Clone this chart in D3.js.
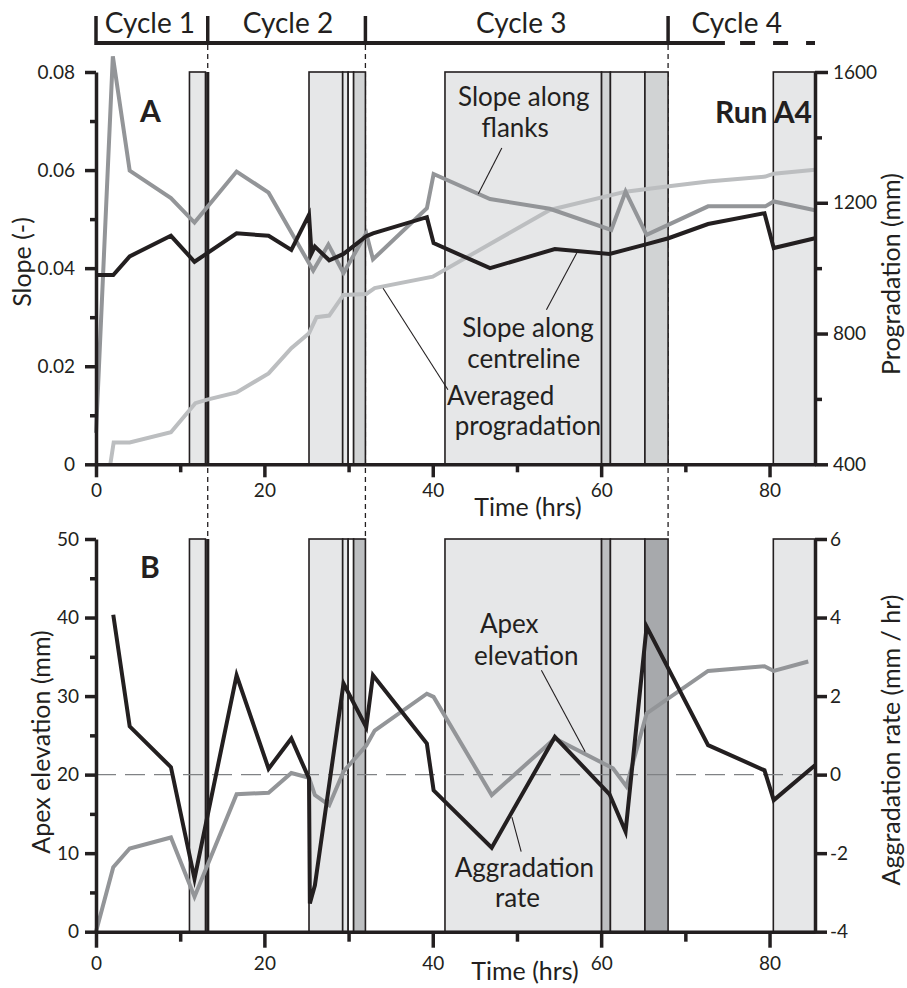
<!DOCTYPE html>
<html>
<head>
<meta charset="utf-8">
<script src="https://cdn.jsdelivr.net/npm/d3@7"></script>
<style>
  body { margin: 0; background: #fff; }
  svg { display: block; font-family: Lato, "Open Sans", sans-serif; }
</style>
</head>
<body>
<svg width="907" height="988"></svg>
<script>
// time axis (hrs)
const timeDomain = [0, 85.4];
const timeTicks = [0, 20, 40, 60, 80];
const timeMinor = [10, 30, 50, 70];

// cycles along the top bar
const cycleNames = ["Cycle 1", "Cycle 2", "Cycle 3", "Cycle 4"];
const cycleStarts = [0, 13.27, 32.0, 67.95];
const cycleLabelTimes = [6.4, 22.8, 50.5, 76.1];
const cycleSolidEnd = 74.7;
const cycleDashStart = 76.5;

// shaded intervals: start, end, shade
const bands = [
  [11.1, 13.0, "light"],
  [25.3, 29.3, "light"],
  [29.3, 29.95, "light"],
  [29.95, 30.6, "blank"],
  [30.6, 32.0, "dark"],
  [41.45, 60.05, "light"],
  [60.05, 61.1, "dark"],
  [61.1, 65.2, "light"],
  [65.2, 67.95, "darker"],
  [80.45, 85.4, "light"]
];

// panel A: slope (-) and progradation (mm)
const slopeTicks = [0, 0.02, 0.04, 0.06, 0.08];
const slopeMinor = [0.01, 0.03, 0.05, 0.07];
const progTicks = [400, 800, 1200, 1600];
const progMinor = [600, 1000, 1400];

const flanks = [
  [0, 0.0064], [2.0, 0.0832], [4.0, 0.0599], [8.9, 0.0543], [11.7, 0.0493],
  [16.7, 0.0597], [20.5, 0.0554], [25.8, 0.0395], [27.6, 0.0448], [29.4, 0.0390],
  [32.1, 0.0471], [32.9, 0.0418], [39.3, 0.0522], [40.1, 0.0592], [46.8, 0.0541],
  [53.9, 0.0521], [61.2, 0.0478], [62.9, 0.0556], [65.4, 0.0468], [72.7, 0.0526],
  [79.5, 0.0526], [80.5, 0.0536], [85.4, 0.0518]
];
const centreline = [
  [0, 0.0386], [2.05, 0.0386], [4.0, 0.0424], [8.9, 0.0466], [11.7, 0.0413],
  [16.7, 0.0471], [20.5, 0.0466], [23.2, 0.0437], [25.3, 0.0509], [25.6, 0.0430],
  [26.0, 0.0444], [27.7, 0.0416], [29.4, 0.0429], [32.1, 0.0465], [32.9, 0.0471],
  [39.3, 0.0504], [40.1, 0.0451], [46.8, 0.0400], [54.5, 0.0439], [61.0, 0.0429],
  [65.2, 0.0448], [68.0, 0.0461], [72.7, 0.0490], [79.4, 0.0512], [80.5, 0.0441],
  [85.4, 0.0461]
];
const progradation = [
  [1.7, 400], [2.1, 467], [4.0, 467], [8.9, 498], [11.8, 587], [13.1, 597],
  [16.7, 620], [20.5, 678], [23.2, 755], [25.3, 801], [26.2, 850], [27.7, 855],
  [29.4, 918], [32.1, 921], [33.1, 939], [40.0, 974], [46.8, 1074], [53.9, 1178],
  [62.9, 1234], [67.8, 1250], [72.7, 1265], [79.5, 1280], [80.5, 1289], [85.4, 1301]
];

// panel B: apex elevation (mm) and aggradation rate (mm / hr)
const elevTicks = [0, 10, 20, 30, 40, 50];
const elevMinor = [5, 15, 25, 35, 45];
const rateTicks = [-4, -2, 0, 2, 4, 6];

const elevation = [
  [0, 0], [2.05, 8.2], [4.0, 10.6], [8.9, 12.0], [11.7, 4.45], [16.7, 17.5],
  [20.5, 17.7], [23.2, 20.2], [25.3, 19.6], [26.0, 17.4], [27.7, 16.1], [29.4, 20.4],
  [32.1, 23.7], [33.1, 25.6], [39.3, 30.3], [40.1, 29.9], [47.0, 17.4], [54.5, 24.6],
  [61.4, 20.8], [63.0, 18.5], [65.4, 27.8], [72.7, 33.2], [79.4, 33.8], [80.5, 33.2],
  [84.6, 34.4]
];
const rate = [
  [2.05, 4.07], [4.0, 1.23], [8.9, 0.19], [11.7, -2.65], [16.7, 2.53], [20.5, 0.15],
  [23.2, 0.92], [25.3, -0.1], [25.4, -3.28], [26.0, -2.82], [29.4, 2.32], [32.1, 1.21],
  [32.9, 2.53], [39.3, 0.79], [40.1, -0.40], [47.0, -1.86], [54.5, 0.96], [61.0, -0.5],
  [62.9, -1.45], [65.4, 3.77], [72.7, 0.75], [79.4, 0.11], [80.5, -0.65], [85.4, 0.24]
];

// annotations, in data units
const notesA = [
  { text: "Slope along", t: 43.0, v: 0.0730 },
  { text: "flanks", t: 45.8, v: 0.0668 },
  { text: "Slope along", t: 43.5, v: 0.0260 },
  { text: "centreline", t: 44.1, v: 0.0197 },
  { text: "Averaged", t: 41.7, v: 0.0121 },
  { text: "progradation", t: 42.6, v: 0.0060 }
];
const leadersA = [
  [[48.2, 0.0645], [45.4, 0.0551]],
  [[53.5, 0.0315], [57.1, 0.0431]],
  [[34.1, 0.0359], [41.8, 0.0152]]
];
const notesB = [
  { text: "Apex", t: 45.6, v: 38.0 },
  { text: "elevation", t: 44.9, v: 33.9 },
  { text: "Aggradation", t: 42.6, v: 7.0 },
  { text: "rate", t: 47.4, v: 3.2 }
];
const leadersB = [
  [[52.9, 33.3], [58.1, 22.9]],
  [[49.4, 14.6], [50.5, 10.2]]
];

// colours
const ink = "#231f20";
const midGrey = "#939598";
const lightGrey = "#bcbec0";

const svg = d3.select("svg");
const x = d3.scaleLinear().domain(timeDomain).range([96, 815]);

// panel frames
const topA = 72, bottomA = 464.3;
const topB = 539, bottomB = 931.7;
const ySlope = d3.scaleLinear().domain([0, 0.08]).range([bottomA, topA]);
const yProg = d3.scaleLinear().domain([400, 1600]).range([bottomA, topA]);
const yElev = d3.scaleLinear().domain([0, 50]).range([bottomB, topB]);
const yRate = d3.scaleLinear().domain([-4, 6]).range([bottomB, topB]);

// cycle bar
const bar = svg.append("g").attr("class", "cycles");
bar.append("line")
  .attr("x1", x(0)).attr("x2", x(cycleSolidEnd))
  .attr("y1", 43).attr("y2", 43)
  .attr("stroke", ink).attr("stroke-width", 4);
bar.append("line")
  .attr("x1", x(cycleDashStart)).attr("x2", x(timeDomain[1]))
  .attr("y1", 43).attr("y2", 43)
  .attr("stroke", ink).attr("stroke-width", 4)
  .attr("stroke-dasharray", "15,18");
bar.selectAll(".cycle-tick")
  .data(cycleStarts)
  .enter()
  .append("line")
  .attr("x1", d => x(d)).attr("x2", d => x(d))
  .attr("y1", 16).attr("y2", 45)
  .attr("stroke", ink).attr("stroke-width", 3.5);
bar.selectAll(".cycle-label")
  .data(cycleNames)
  .enter()
  .append("text")
  .attr("x", (d, i) => x(cycleLabelTimes[i]))
  .attr("y", 33)
  .attr("text-anchor", "middle")
  .attr("font-size", 28)
  .attr("fill", ink)
  .text(d => d);

// dashed cycle boundaries running down through panel A
svg.selectAll(".boundary")
  .data(cycleStarts.slice(1))
  .enter()
  .append("line")
  .attr("x1", d => x(d)).attr("x2", d => x(d))
  .attr("y1", 45).attr("y2", topB)
  .attr("stroke", ink).attr("stroke-width", 1.3)
  .attr("stroke-dasharray", "5,4");

function drawBands(g, y0, y1, fills) {
  g.selectAll(".band")
    .data(bands)
    .enter()
    .append("rect")
    .attr("x", d => x(d[0]))
    .attr("width", d => x(d[1]) - x(d[0]))
    .attr("y", y0)
    .attr("height", y1 - y0)
    .attr("fill", d => fills[d[2]])
    .attr("stroke", ink)
    .attr("stroke-width", 1.6);
  // thick line closing cycle 1
  g.append("line")
    .attr("x1", x(cycleStarts[1])).attr("x2", x(cycleStarts[1]))
    .attr("y1", y0).attr("y2", y1)
    .attr("stroke", ink).attr("stroke-width", 3.2);
}

function drawSeries(g, data, yScale, colour) {
  const line = d3.line()
    .x(d => x(d[0]))
    .y(d => yScale(d[1]));
  g.append("path")
    .datum(data)
    .attr("d", line)
    .attr("fill", "none")
    .attr("stroke", colour)
    .attr("stroke-width", 4)
    .attr("stroke-linejoin", "miter")
    .attr("stroke-miterlimit", 6);
}

function drawAxis(g, axisFn, scale, transform, major, minor, bigSize, smallSize, pad, fmt) {
  if (minor.length) {
    const m = g.append("g")
      .attr("transform", transform)
      .call(axisFn(scale).tickValues(minor).tickSize(smallSize).tickSizeOuter(0).tickFormat(""));
    m.select(".domain").remove();
    m.selectAll("line").attr("stroke", ink).attr("stroke-width", 3.5);
  }
  const a = g.append("g")
    .attr("transform", transform)
    .call(axisFn(scale).tickValues(major).tickSize(bigSize).tickSizeOuter(0)
      .tickPadding(pad).tickFormat(fmt));
  a.select(".domain").attr("stroke", ink).attr("stroke-width", 3.5);
  a.selectAll("line").attr("stroke", ink).attr("stroke-width", 3.5);
  a.selectAll("text")
    .attr("fill", ink)
    .attr("font-size", 19)
    .attr("font-family", "Lato, 'Open Sans', sans-serif");
  return a;
}

function drawNotes(g, notes, leaders, yScale) {
  g.selectAll(".note")
    .data(notes)
    .enter()
    .append("text")
    .attr("x", d => x(d.t))
    .attr("y", d => yScale(d.v))
    .attr("font-size", 26)
    .attr("fill", ink)
    .text(d => d.text);
  g.selectAll(".leader")
    .data(leaders)
    .enter()
    .append("line")
    .attr("x1", d => x(d[0][0])).attr("y1", d => yScale(d[0][1]))
    .attr("x2", d => x(d[1][0])).attr("y2", d => yScale(d[1][1]))
    .attr("stroke", ink).attr("stroke-width", 1.1);
}

function title(text, tx, ty, rotate) {
  svg.append("text")
    .attr("transform", "translate(" + tx + "," + ty + ")" + (rotate ? " rotate(-90)" : ""))
    .attr("text-anchor", "middle")
    .attr("font-size", 25)
    .attr("fill", ink)
    .text(text);
}

// plain hyphen for negatives, like the original
const plain = d => String(d);

// panel A
const gA = svg.append("g").attr("class", "panel-a");
drawBands(gA, topA, bottomA, { light: "#e6e7e8", blank: "#ffffff", dark: "#d1d3d4", darker: "#d1d3d4" });
drawSeries(gA, progradation, yProg, lightGrey);
drawSeries(gA, flanks, ySlope, midGrey);
drawSeries(gA, centreline, ySlope, ink);
drawNotes(gA, notesA, leadersA, ySlope);
drawAxis(gA, d3.axisBottom, x, "translate(0," + bottomA + ")", timeTicks, timeMinor, 13, 8, 6, plain);
drawAxis(gA, d3.axisLeft, ySlope, "translate(" + x(0) + ",0)", slopeTicks, slopeMinor, 11, 6, 10,
  d => d === 0 ? "0" : d3.format(".2f")(d));
drawAxis(gA, d3.axisRight, yProg, "translate(" + x(timeDomain[1]) + ",0)", progTicks, progMinor, 13, 7, 5, plain);

gA.append("text")
  .attr("x", 140).attr("y", 122)
  .attr("font-size", 30).attr("font-weight", "bold").attr("fill", ink)
  .text("A");
gA.append("text")
  .attr("x", 812).attr("y", 123)
  .attr("text-anchor", "end")
  .attr("font-size", 30).attr("font-weight", "bold").attr("fill", ink)
  .text("Run A4");

title("Slope (-)", 31, 262, true);
title("Progradation (mm)", 900, 274, true);
title("Time (hrs)", 528, 516, false);

// panel B
const gB = svg.append("g").attr("class", "panel-b");
drawBands(gB, topB, bottomB, { light: "#e6e7e8", blank: "#ffffff", dark: "#bcbec0", darker: "#a7a9ac" });

// zero aggradation reference
gB.append("line")
  .attr("x1", x(0)).attr("x2", x(timeDomain[1]))
  .attr("y1", yRate(0)).attr("y2", yRate(0))
  .attr("stroke", "#808285").attr("stroke-width", 1.2)
  .attr("stroke-dasharray", "20,9");

drawSeries(gB, elevation, yElev, midGrey);
drawSeries(gB, rate, yRate, ink);
drawNotes(gB, notesB, leadersB, yElev);
drawAxis(gB, d3.axisBottom, x, "translate(0," + bottomB + ")", timeTicks, timeMinor, 16, 10, 9, plain);
drawAxis(gB, d3.axisLeft, yElev, "translate(" + x(0) + ",0)", elevTicks, elevMinor, 11, 6, 6, plain);
drawAxis(gB, d3.axisRight, yRate, "translate(" + x(timeDomain[1]) + ",0)", rateTicks, [], 12, 6, 3, plain);

gB.append("text")
  .attr("x", 140).attr("y", 578)
  .attr("font-size", 30).attr("font-weight", "bold").attr("fill", ink)
  .text("B");

title("Apex elevation (mm)", 50, 742, true);
title("Aggradation rate (mm / hr)", 900, 740, true);
title("Time (hrs)", 525, 980, false);
</script>
</body>
</html>
